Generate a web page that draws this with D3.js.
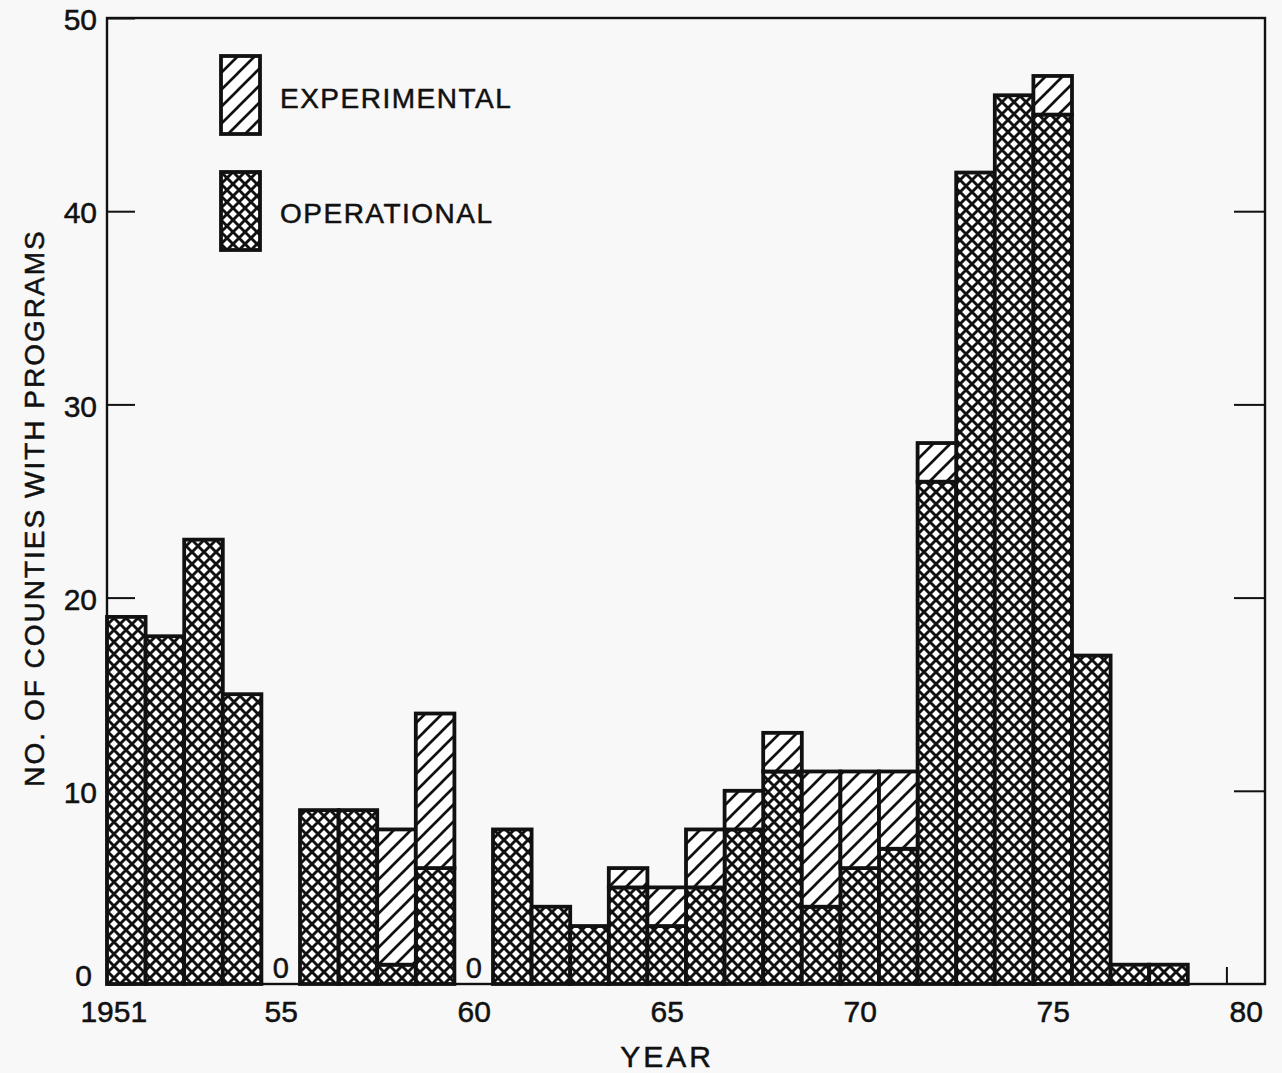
<!DOCTYPE html>
<html>
<head>
<meta charset="utf-8">
<script src="https://cdn.jsdelivr.net/npm/d3@7/dist/d3.min.js"></script>
<style>
  body { margin: 0; background: #f8f8f8; }
  text { font-family: "Liberation Sans", Arial, sans-serif; fill: #111; stroke: #111; stroke-width: 0.5; }
</style>
</head>
<body>
<svg id="chart" width="1282" height="1073"></svg>
<script>
// counties with programs, by year
const years = [1951, 1952, 1953, 1954, 1955, 1956, 1957, 1958, 1959, 1960,
               1961, 1962, 1963, 1964, 1965, 1966, 1967, 1968, 1969, 1970,
               1971, 1972, 1973, 1974, 1975, 1976, 1977, 1978];
const operational = [19, 18, 23, 15, 0, 9, 9, 1, 6, 0,
                     8, 4, 3, 5, 3, 5, 8, 11, 4, 6,
                     7, 26, 42, 46, 45, 17, 1, 1];
const experimental = [0, 0, 0, 0, 0, 0, 0, 7, 8, 0,
                      0, 0, 0, 1, 2, 3, 2, 2, 7, 5,
                      4, 2, 0, 0, 2, 0, 0, 0];

const yTicks = [0, 10, 20, 30, 40, 50];
const xTickYears = [1955, 1960, 1965, 1970, 1975, 1980];
const xLabelYears = [1951, 1955, 1960, 1965, 1970, 1975, 1980];
const xLabels = ['1951', '55', '60', '65', '70', '75', '80'];
const legendKeys = ['EXPERIMENTAL', 'OPERATIONAL'];

const ink = '#111';
const svg = d3.select('#chart');

const x = d3.scaleLinear().domain([1951, 1981]).range([107, 1265]);
const y = d3.scaleLinear().domain([0, 50]).range([984, 18]);

// fill patterns
const defs = svg.append('defs');
const cross = defs.append('pattern')
  .attr('id', 'cross')
  .attr('patternUnits', 'userSpaceOnUse')
  .attr('width', 12).attr('height', 12);
cross.append('rect').attr('width', 12).attr('height', 12).attr('fill', '#fff');
cross.append('path')
  .attr('d', 'M-3,-3L15,15M15,-3L-3,15')
  .attr('stroke', ink).attr('stroke-width', 2.9);

const hatch = defs.append('pattern')
  .attr('id', 'hatch')
  .attr('patternUnits', 'userSpaceOnUse')
  .attr('width', 17).attr('height', 17);
hatch.append('rect').attr('width', 17).attr('height', 17).attr('fill', '#fff');
hatch.append('path')
  .attr('d', 'M-3,20L20,-3M-3,3L3,-3M14,20L20,14')
  .attr('stroke', ink).attr('stroke-width', 2.7);

const fills = { operational: 'url(#cross)', experimental: 'url(#hatch)' };

// ticks (drawn first so bars cover them)
const leftAxis = d3.axisLeft(y).tickValues(yTicks).tickSize(-28).tickPadding(10);
svg.append('g')
   .attr('transform', `translate(${x(1951)},0)`)
   .call(leftAxis)
   .call(g => g.select('.domain').remove())
   .call(g => g.selectAll('line').attr('stroke', ink).attr('stroke-width', 2))
   .call(g => g.selectAll('text')
     .attr('font-size', 30).attr('fill', ink).style('font-family', null)
     .attr('y', d => d === 0 ? -8 : 2)
     .attr('x', d => d === 0 ? -15 : -10));

const rightAxis = d3.axisRight(y).tickValues(yTicks.slice(1, -1)).tickSize(-31).tickFormat('');
svg.append('g')
   .attr('transform', `translate(${x(1981)},0)`)
   .call(rightAxis)
   .call(g => g.select('.domain').remove())
   .call(g => g.selectAll('line').attr('stroke', ink).attr('stroke-width', 2));

const bottomTicks = d3.axisBottom(x).tickValues(xTickYears).tickSize(-17).tickFormat('');
svg.append('g')
   .attr('transform', `translate(0,${y(0)})`)
   .call(bottomTicks)
   .call(g => g.select('.domain').remove())
   .call(g => g.selectAll('line').attr('stroke', ink).attr('stroke-width', 2));

// year labels sit at the middle of each year slot
const bottomLabels = d3.axisBottom(x)
  .tickValues(xLabelYears.map(d => d + 0.5))
  .tickSize(0).tickPadding(17)
  .tickFormat((d, i) => xLabels[i]);
svg.append('g')
   .attr('transform', `translate(0,${y(0)})`)
   .call(bottomLabels)
   .call(g => g.select('.domain').remove())
   .call(g => g.selectAll('text')
     .attr('font-size', 30).attr('fill', ink).style('font-family', null)
     .attr('x', (d, i) => i === 0 ? -13 : 0));

// stacked bars
const table = years.map((yr, i) => ({
  year: yr, operational: operational[i], experimental: experimental[i]
}));
const stack = d3.stack().keys(['operational', 'experimental'])(table);

svg.append('g')
  .selectAll('g')
  .data(stack)
  .join('g')
    .attr('fill', d => fills[d.key])
  .selectAll('rect')
  .data(d => d.filter(s => s[1] > s[0]))
  .join('rect')
    .attr('x', d => x(d.data.year))
    .attr('width', d => x(d.data.year + 1) - x(d.data.year))
    .attr('y', d => y(d[1]))
    .attr('height', d => y(d[0]) - y(d[1]))
    .attr('stroke', ink)
    .attr('stroke-width', 3.8);

// zero markers
svg.append('g')
  .selectAll('text')
  .data(table.filter(d => d.operational + d.experimental === 0))
  .join('text')
    .attr('x', d => x(d.year + 0.5))
    .attr('y', y(0) - 6)
    .attr('text-anchor', 'middle')
    .attr('font-size', 29)
    .text('0');

// frame
svg.append('rect')
  .attr('x', x(1951)).attr('y', y(50))
  .attr('width', x(1981) - x(1951))
  .attr('height', y(0) - y(50))
  .attr('fill', 'none')
  .attr('stroke', ink)
  .attr('stroke-width', 2.4);

// legend
const legend = svg.append('g')
  .selectAll('g')
  .data(legendKeys)
  .join('g')
    .attr('transform', (d, i) => `translate(221,${56 + i * 116})`);
legend.append('rect')
  .attr('width', 39).attr('height', 78)
  .attr('fill', (d, i) => i === 0 ? fills.experimental : fills.operational)
  .attr('stroke', ink).attr('stroke-width', 3.8);
legend.append('text')
  .attr('x', 59).attr('y', (d, i) => i === 0 ? 52 : 51)
  .attr('font-size', 28)
  .attr('letter-spacing', (d, i) => i === 0 ? 1.5 : 1.5)
  .text(d => d);

// axis titles
svg.append('text')
  .attr('x', 667).attr('y', 1067)
  .attr('text-anchor', 'middle')
  .attr('font-size', 30)
  .attr('letter-spacing', 3)
  .text('YEAR');

svg.append('text')
  .attr('transform', 'translate(44,508) rotate(-90)')
  .attr('text-anchor', 'middle')
  .attr('font-size', 28)
  .attr('letter-spacing', 2)
  .text('NO. OF COUNTIES WITH PROGRAMS');
</script>
</body>
</html>
